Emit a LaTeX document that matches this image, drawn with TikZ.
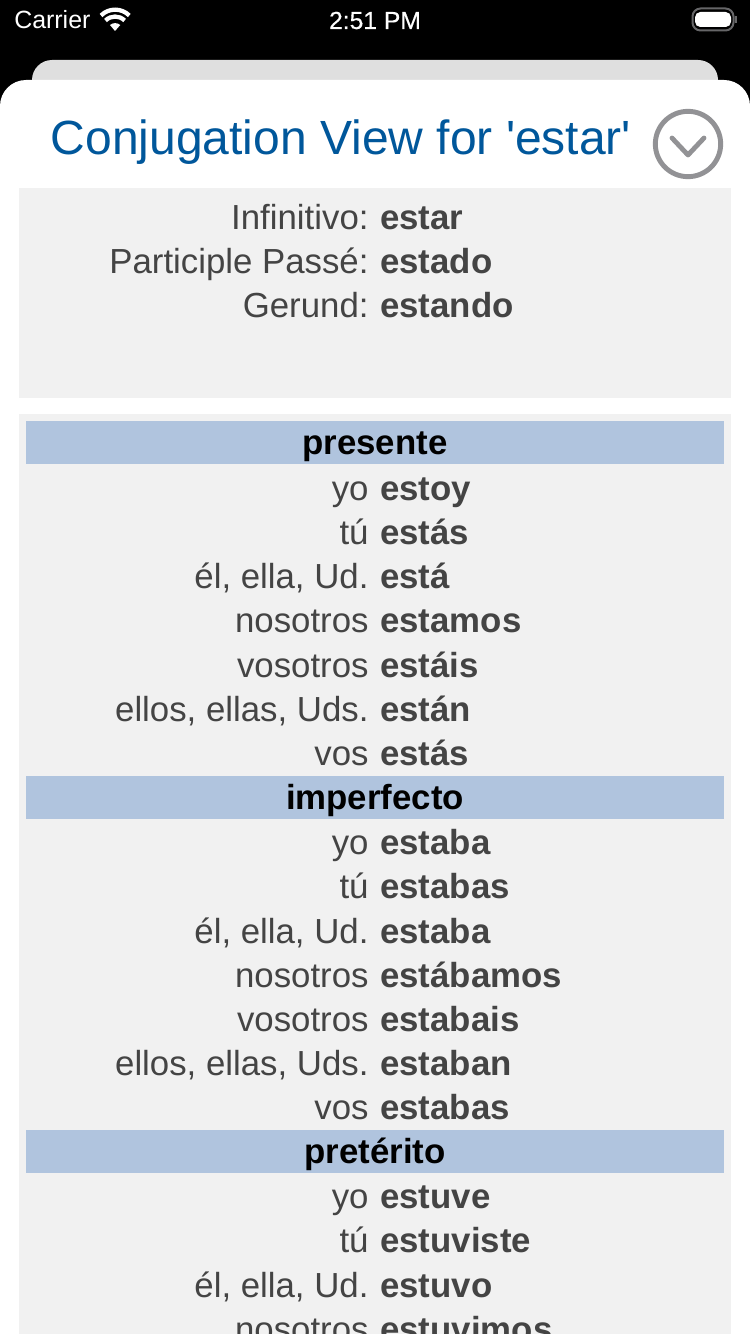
\documentclass[tikz,border=0pt]{standalone}
\usepackage{fontspec}
\setmainfont{Liberation Sans}
\usepackage{tikz}
\usetikzlibrary{positioning, calc}
\definecolor{tinta}{HTML}{444444}
\definecolor{azul}{HTML}{00579B}
\definecolor{panel}{HTML}{F1F1F1}
\definecolor{banda}{HTML}{B0C4DE}
\definecolor{trasera}{HTML}{DFDFDF}
\definecolor{anillo}{HTML}{929295}

\begin{document}
\begin{tikzpicture}[x=0.75pt, y=-0.75pt,
        pron/.style={anchor=base east, inner sep=0pt, xshift=0.6pt, yshift=-0.5pt, text=tinta, font=\fontsize{26.1}{30}\selectfont},
        forma/.style={anchor=base west, inner sep=0pt, yshift=-0.5pt, text=tinta, font=\fontsize{26.1}{30}\selectfont\bfseries},
        tiempo/.style={anchor=base, inner sep=0pt, yshift=-0.5pt, text=black, font=\fontsize{26.1}{30}\selectfont\bfseries},
        estado/.style={anchor=base, inner sep=0pt, text=white, font=\fontsize{18.7}{22}\selectfont},
        banda/.style={fill=banda, draw=none},
        panel/.style={fill=panel, draw=none}]
        \useasboundingbox (0, 0) rectangle (750, 1334);
        \clip (0, 0) rectangle (750, 1334);
        \fill[black] (0, 0) rectangle (750, 1334);
        \fill[trasera, rounded corners=15] (32, 60) rectangle (718, 140);
        \fill[white] (0, 1334) -- (0, 106) arc[start angle=180, end angle=270, x radius=26, y radius=26] -- (724, 80) arc[start angle=270, end angle=360, x radius=26, y radius=26] -- (750, 1334) -- cycle;
        \node[estado, anchor=base west] (carrier) at (14, 29) {Carrier};
        \node[estado, font=\fontsize{18.5}{22}\selectfont\addfontfeature{FakeBold=0.4}] (hora) at (375, 29) {2:51 PM};
        \fill[white] (115, 31) -- (110, 25) arc[start angle=230, end angle=310, radius=8] -- cycle;
        \draw[white, line width=3.2] (105.5, 20.5) arc[start angle=225, end angle=315, radius=13.5];
        \draw[white, line width=3.2] (101, 15.5) arc[start angle=225, end angle=315, radius=20];
        \draw[anillo!70!black, line width=1.5, rounded corners=6] (692.5, 8.5) rectangle (733.5, 30.5);
        \fill[white, rounded corners=4] (695, 12) rectangle (731, 27);
        \fill[anillo!70!black] (735, 16) rectangle (737, 23);
        \node[anchor=base, inner sep=0pt, text=azul, font=\fontsize{36}{42}\selectfont] (titulo) at (341, 155) {Conjugation View for \textquotesingle estar\textquotesingle};
        \node[circle, draw=anillo, line width=3.7, minimum size=49pt, inner sep=0pt] (cerrar) at (688, 144) {};
        \draw[anillo, line width=3.6, line cap=round, line join=round] ($(cerrar.center)+(-16, -6)$) -- ($(cerrar.center)+(0, 11)$) -- ($(cerrar.center)+(16, -6)$);
        \fill[panel] (19, 188) rectangle (731, 398);
        \fill[panel] (19, 414) rectangle (731, 1334);
        \node[pron] (inf) at (368, 229) {Infinitivo:};
        \node[forma] (infF) at (380, 229) {estar};
        \node[pron] (part) at (368, 273) {Participle Passé:};
        \node[forma] (partF) at (380, 273) {estado};
        \node[pron] (ger) at (368, 317) {Gerund:};
        \node[forma] (gerF) at (380, 317) {estando};
        \fill[banda] (26, 421) rectangle (724, 464);
        \node[tiempo] (presente) at (375, 454) {presente};
        \node[pron] (p1) at (368, 500) {yo};
        \node[forma] (p1F) at (380, 500) {estoy};
        \node[pron] (p2) at (368, 544) {tú};
        \node[forma] (p2F) at (380, 544) {estás};
        \node[pron] (p3) at (368, 588) {él, ella, Ud.};
        \node[forma] (p3F) at (380, 588) {está};
        \node[pron] (p4) at (368, 632) {nosotros};
        \node[forma] (p4F) at (380, 632) {estamos};
        \node[pron] (p5) at (368, 677) {vosotros};
        \node[forma] (p5F) at (380, 677) {estáis};
        \node[pron] (p6) at (368, 721) {ellos, ellas, Uds.};
        \node[forma] (p6F) at (380, 721) {están};
        \node[pron] (p7) at (368, 765) {vos};
        \node[forma] (p7F) at (380, 765) {estás};
        \fill[banda] (26, 776) rectangle (724, 819);
        \node[tiempo] (imperfecto) at (375, 809) {imperfecto};
        \node[pron] (i1) at (368, 854) {yo};
        \node[forma] (i1F) at (380, 854) {estaba};
        \node[pron] (i2) at (368, 898) {tú};
        \node[forma] (i2F) at (380, 898) {estabas};
        \node[pron] (i3) at (368, 943) {él, ella, Ud.};
        \node[forma] (i3F) at (380, 943) {estaba};
        \node[pron] (i4) at (368, 987) {nosotros};
        \node[forma] (i4F) at (380, 987) {estábamos};
        \node[pron] (i5) at (368, 1031) {vosotros};
        \node[forma] (i5F) at (380, 1031) {estabais};
        \node[pron] (i6) at (368, 1075) {ellos, ellas, Uds.};
        \node[forma] (i6F) at (380, 1075) {estaban};
        \node[pron] (i7) at (368, 1119) {vos};
        \node[forma] (i7F) at (380, 1119) {estabas};
        \fill[banda] (26, 1130) rectangle (724, 1173);
        \node[tiempo] (preterito) at (375, 1163) {pretérito};
        \node[pron] (t1) at (368, 1208) {yo};
        \node[forma] (t1F) at (380, 1208) {estuve};
        \node[pron] (t2) at (368, 1252) {tú};
        \node[forma] (t2F) at (380, 1252) {estuviste};
        \node[pron] (t3) at (368, 1297) {él, ella, Ud.};
        \node[forma] (t3F) at (380, 1297) {estuvo};
        \node[pron] (t4) at (368, 1341) {nosotros};
        \node[forma] (t4F) at (380, 1341) {estuvimos};
    \end{tikzpicture}
\end{document}
